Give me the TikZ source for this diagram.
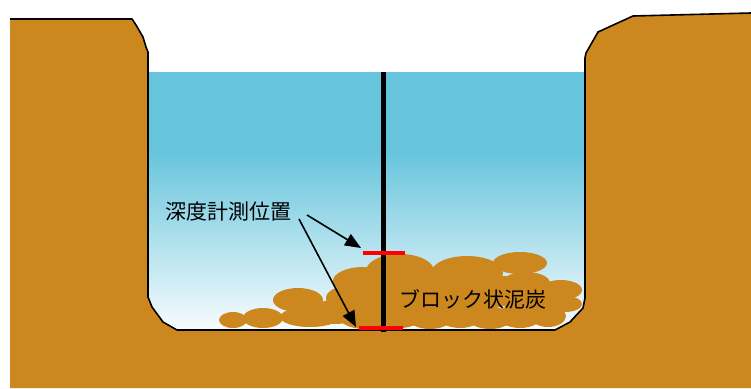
\documentclass[tikz,border=0pt]{standalone}
\usepackage{fontspec}
\newfontfamily\jpfont{Noto Sans CJK JP}
\usetikzlibrary{arrows.meta}
\definecolor{soil}{RGB}{204,136,30}
\definecolor{watertop}{RGB}{102,196,220}
\definecolor{waterbot}{RGB}{248,252,254}
\definecolor{markred}{RGB}{255,0,0}
% water colour: deep blue in the upper part, fading to white at the bed
\pgfdeclareverticalshading{water}{100bp}{color(0bp)=(waterbot); color(25bp)=(waterbot); color(60bp)=(watertop); color(100bp)=(watertop)}
\tikzset{
  lump/.style={fill=soil, draw=none},
  bank/.style={draw=black, line width=1.6pt, line join=round},
  redtick/.style={draw=markred, line width=4pt},
  pointer/.style={draw=black, line width=1.6pt, -{Triangle[length=16pt,width=13pt]}},
  jplabel/.style={font=\jpfont\fontsize{21}{25}\selectfont, inner sep=0pt, text=black}
}
\begin{document}
\begin{tikzpicture}[x=1pt,y=-1pt]
\useasboundingbox (0,0) rectangle (751,388);
\fill[white] (0,0) rectangle (751,388);

% water body in the channel
\fill[shading=water, shading angle=0] (146,72) rectangle (587,331);

% block-shaped peat lumps on the channel bed
\fill[lump] (233,320) ellipse [x radius=14, y radius=8];
\fill[lump] (263,318) ellipse [x radius=20, y radius=10];
\fill[lump] (298,300) ellipse [x radius=25, y radius=12];
\fill[lump] (310,317) ellipse [x radius=30, y radius=10];
\fill[lump] (335,312) ellipse [x radius=25, y radius=12];
\fill[lump] (348,298) ellipse [x radius=22, y radius=12];
\fill[lump] (363,281) ellipse [x radius=30, y radius=14];
\fill[lump] (400,271) ellipse [x radius=34, y radius=17];
\fill[lump] (467,273) ellipse [x radius=36, y radius=17];
\fill[lump] (520,263) ellipse [x radius=27, y radius=11];
\fill[lump] (526,283) ellipse [x radius=24, y radius=11];
\fill[lump] (561,290) ellipse [x radius=21, y radius=10];
\fill[lump] (565,304) ellipse [x radius=17, y radius=8];
\fill[lump] (455,297) ellipse [x radius=60, y radius=15];
\fill[lump] (420,290) ellipse [x radius=40, y radius=15];
\fill[lump] (500,290) ellipse [x radius=40, y radius=14];
\fill[lump] (385,300) ellipse [x radius=30, y radius=12];
\fill[lump] (530,300) ellipse [x radius=30, y radius=12];
\fill[lump] (545,306) ellipse [x radius=25, y radius=10];
\fill[lump] (365,318) ellipse [x radius=25, y radius=11];
\fill[lump] (400,316) ellipse [x radius=22, y radius=12];
\fill[lump] (430,318) ellipse [x radius=22, y radius=11];
\fill[lump] (460,316) ellipse [x radius=22, y radius=12];
\fill[lump] (490,318) ellipse [x radius=22, y radius=11];
\fill[lump] (520,316) ellipse [x radius=22, y radius=12];
\fill[lump] (548,316) ellipse [x radius=18, y radius=11];

% ground with the cut channel
\fill[soil] (10,388) -- (10,19) -- (132,19) -- (136,25) -- (143,37) -- (146,47) -- (148,52)
  -- (148,297) -- (152,307) -- (163,322) -- (177,330) -- (555,330) -- (570,322)
  -- (583,308) -- (585,298) -- (585,58) -- (586,53) -- (598,32) -- (633,16)
  -- (751,13) -- (751,388) -- cycle;
\draw[bank] (10,19) -- (132,19) -- (136,25) -- (143,37) -- (146,47) -- (148,52)
  -- (148,297) -- (152,307) -- (163,322) -- (177,330) -- (555,330) -- (570,322)
  -- (583,308) -- (585,298) -- (585,58) -- (586,53) -- (598,32) -- (633,16)
  -- (751,13);

% sounding pole
\coordinate (poletop) at (383,72);
\coordinate (polefoot) at (383,332);
\draw[line width=5pt] (poletop) -- (polefoot);

% measuring positions
\coordinate (m1w) at (363,253);
\coordinate (m1e) at (405,253);
\coordinate (m2w) at (359,328);
\coordinate (m2e) at (403,328);
\draw[redtick] (m1w) -- (m1e);
\draw[redtick] (m2w) -- (m2e);

% labels
\node[jplabel, anchor=west] (depth) at (165,212) {深度計測位置};
\node[jplabel, anchor=west] (peat) at (399,299) {ブロック状泥炭};

% pointers from the label to the two positions
\coordinate (s1) at (307,215);
\coordinate (s2) at (299,219);
\coordinate (t1) at (361,248);
\coordinate (t2) at (356,327);
\draw[pointer] (s1) -- (t1);
\draw[pointer] (s2) -- (t2);
\end{tikzpicture}
\end{document}
